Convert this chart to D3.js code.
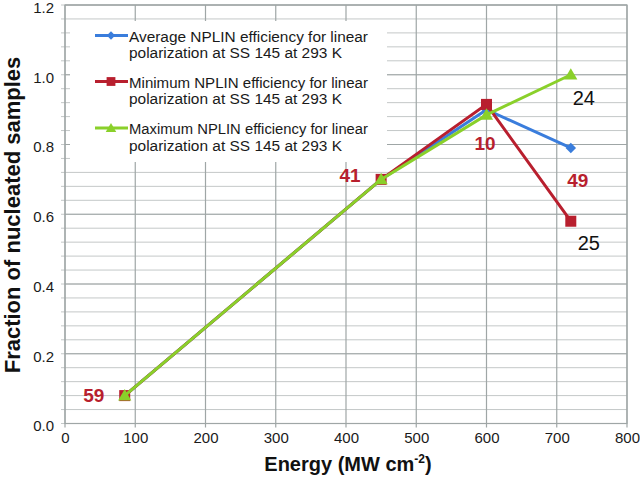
<!DOCTYPE html>
<html><head><meta charset="utf-8">
<script src="https://cdn.jsdelivr.net/npm/d3@7"></script>
<style>body{margin:0;background:#fff;}svg{display:block;font-family:"Liberation Sans",Arial,sans-serif;}</style>
</head><body><svg id="c" width="640" height="480"></svg>
<script>
const energy = [85, 450, 600, 720];
const averageEff = [0.08, 0.70, 0.90, 0.79];
const minimumEff = [0.08, 0.70, 0.915, 0.58];
const maximumEff = [0.08, 0.70, 0.885, 1.0];
const seriesNames = [
  ["Average NPLIN efficiency for linear", "polarization at SS 145 at 293 K"],
  ["Minimum NPLIN efficiency for linear", "polarization at SS 145 at 293 K"],
  ["Maximum NPLIN efficiency for linear", "polarization at SS 145 at 293 K"]
];
const xTicks = [0, 100, 200, 300, 400, 500, 600, 700, 800];
const yTicks = [0.0, 0.2, 0.4, 0.6, 0.8, 1.0, 1.2];
// annotations: [energy, fraction, text, bold]
const annotations = [
  [85, 0.08, "59", true],
  [450, 0.70, "41", true],
  [600, 0.915, "10", true],
  [720, 0.79, "49", true],
  [720, 1.0, "24", false],
  [720, 0.58, "25", false]
];

const svg = d3.select("#c");
const L = 65, R = 627, T = 5, B = 423.5;
const x = d3.scaleLinear().domain([0, 800]).range([L, R]);
const y = d3.scaleLinear().domain([0, 1.2]).range([B, T]);

// minor gridlines
const minor = d3.range(0, 1.2001, 0.04);
svg.append("g").selectAll("line").data(minor).join("line")
  .attr("x1", L - 4).attr("x2", R).attr("y1", d => y(d)).attr("y2", d => y(d))
  .attr("stroke", "#c4c8c8").attr("stroke-width", 1);
// major gridlines
svg.append("g").selectAll("line").data(yTicks).join("line")
  .attr("x1", L).attr("x2", R).attr("y1", d => y(d)).attr("y2", d => y(d))
  .attr("stroke", "#9fa6a6").attr("stroke-width", 1.2);
svg.append("g").selectAll("line").data(xTicks).join("line")
  .attr("x1", d => x(d)).attr("x2", d => x(d)).attr("y1", T).attr("y2", B + 4)
  .attr("stroke", "#9fa6a6").attr("stroke-width", 1.2);
svg.append("rect").attr("x", L).attr("y", T).attr("width", R - L).attr("height", B - T)
  .attr("fill", "none").attr("stroke", "#9fa6a6").attr("stroke-width", 1.2);

// axes labels via d3 axis
const xAxis = svg.append("g").attr("transform", `translate(0,${B})`)
  .call(d3.axisBottom(x).tickValues(xTicks).tickSize(0).tickPadding(9).tickFormat(d3.format("d")));
xAxis.select(".domain").remove();
xAxis.selectAll("text").attr("font-size", 15).attr("fill", "#1a1a1a").attr("font-family", "Liberation Sans, Arial, sans-serif");
const yAxis = svg.append("g").attr("transform", `translate(${L},2.5)`)
  .call(d3.axisLeft(y).tickValues(yTicks).tickSize(0).tickPadding(11).tickFormat(d3.format(".1f")));
yAxis.select(".domain").remove();
yAxis.selectAll("text").attr("font-size", 15).attr("fill", "#1a1a1a").attr("font-family", "Liberation Sans, Arial, sans-serif");

// axis titles
const xt = svg.append("text").attr("x", 348).attr("y", 471).attr("text-anchor", "middle")
  .attr("font-size", 20).attr("font-weight", "bold").attr("fill", "#111");
xt.append("tspan").text("Energy (MW cm");
xt.append("tspan").text("-2").attr("font-size", 12).attr("dy", -8);
xt.append("tspan").text(")").attr("dy", 8);
svg.append("text").attr("transform", "translate(20,215) rotate(-90)").attr("text-anchor", "middle")
  .attr("font-size", 22).attr("font-weight", "bold").attr("fill", "#111")
  .text("Fraction of nucleated samples");

// legend box
svg.append("rect").attr("x", 70).attr("y", 21).attr("width", 317).attr("height", 141).attr("fill", "#fff");

const colors = ["#3a7ddc", "#b81f2e", "#8ad02a"];
const data = [averageEff, minimumEff, maximumEff];
const line = d3.line().x(d => x(d[0])).y(d => y(d[1]));

function marker(g, type, cx, cy, color, s) {
  s = s || 1;
  if (type === 0) {
    g.append("path").attr("d", d3.symbol(d3.symbolDiamond2, 70 * s * s)()).attr("transform", `translate(${cx},${cy})`).attr("fill", color);
  } else if (type === 1) {
    g.append("rect").attr("x", cx - 5.5 * s).attr("y", cy - 5.5 * s).attr("width", 11 * s).attr("height", 11 * s).attr("fill", color);
  } else {
    g.append("path").attr("d", d3.symbol(d3.symbolTriangle, 75 * s * s)()).attr("transform", `translate(${cx},${cy+1})`).attr("fill", color);
  }
}

data.forEach((vals, i) => {
  const pts = energy.map((e, k) => [e, vals[k]]);
  const g = svg.append("g");
  g.append("path").attr("d", line(pts)).attr("fill", "none").attr("stroke", colors[i]).attr("stroke-width", 3);
  pts.forEach(p => marker(g, i, x(p[0]), y(p[1]), colors[i]));
});

// legend items
const legY = [35.5, 81.5, 128];
seriesNames.forEach((nm, i) => {
  const g = svg.append("g");
  g.append("line").attr("x1", 95).attr("x2", 128).attr("y1", legY[i]).attr("y2", legY[i]).attr("stroke", colors[i]).attr("stroke-width", 3);
  marker(g, i, 111, legY[i], colors[i], 0.8);
  const t = g.append("text").attr("font-size", 15.5).attr("fill", "#1a1a1a");
  t.append("tspan").attr("x", 129).attr("y", legY[i] + 6).attr("textLength", 239).attr("lengthAdjust", "spacingAndGlyphs").text(nm[0]);
  t.append("tspan").attr("x", 129).attr("y", legY[i] + 22.5).attr("textLength", 213).attr("lengthAdjust", "spacingAndGlyphs").text(nm[1]);
});

// annotations
const offs = [[-31, 6.5], [-31, 2.5], [-1.5, 45.5], [7, 39], [13, 30], [18, 29]];
annotations.forEach((a, i) => {
  svg.append("text").attr("x", x(a[0]) + offs[i][0]).attr("y", y(a[1]) + offs[i][1])
    .attr("text-anchor", "middle")
    .attr("font-size", a[3] ? 19 : 20).attr("font-weight", a[3] ? "bold" : "normal")
    .attr("fill", a[3] ? "#b81f2e" : "#111").text(a[2]);
});
</script></body></html>
